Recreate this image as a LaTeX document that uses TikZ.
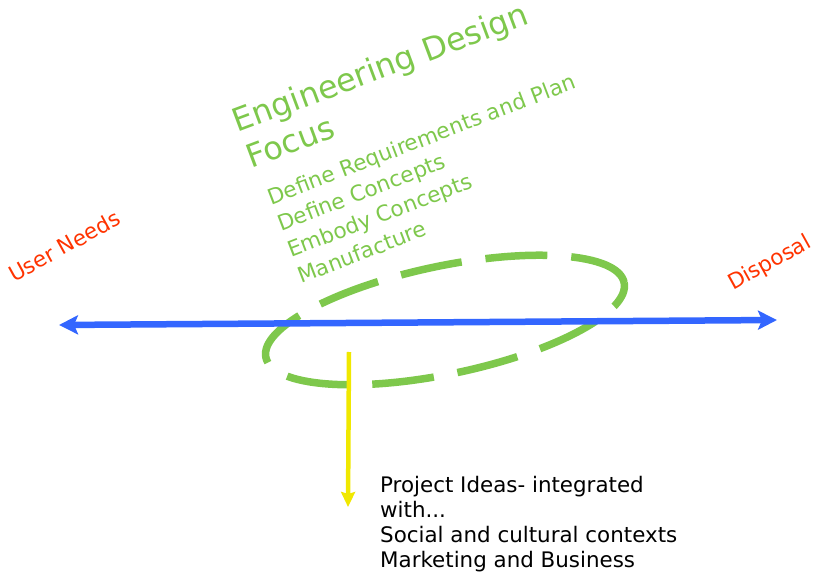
\documentclass[tikz,border=0pt]{standalone}
\usepackage{fontspec}
\setmainfont{DejaVu Sans}
\usetikzlibrary{arrows.meta}

\definecolor{focusgreen}{RGB}{126,200,76}
\definecolor{axisblue}{RGB}{51,102,255}
\definecolor{endred}{RGB}{255,51,0}
\definecolor{ideayellow}{RGB}{240,232,0}

\begin{document}
\begin{tikzpicture}
  [x=1pt,y=1pt,
   end label/.style={text=endred,font=\fontsize{21.5}{26}\selectfont,rotate=29,inner sep=0pt,anchor=base west},
   focus title/.style={text=focusgreen,font=\fontsize{32}{38}\selectfont,rotate=20.5,inner sep=0pt,anchor=north west,align=left},
   focus steps/.style={text=focusgreen,font=\fontsize{21.6}{28}\selectfont,rotate=21,inner sep=0pt,anchor=north west,align=left},
   idea text/.style={text=black,font=\fontsize{21.4}{25}\selectfont,inner sep=0pt,anchor=north west,align=left}]
  \useasboundingbox (0,0) rectangle (815,-577);

  % ends of the life-cycle axis
  \coordinate (needs) at (59,-325);
  \coordinate (disposal) at (777,-320);
  \node[end label] (needslabel) at (14,-283) {User Needs};
  \node[end label] (disposallabel) at (733,-291) {Disposal};

  % design focus
  \node[focus title] (title) at (229,-110) {Engineering Design\\Focus};
  \node[focus steps] (steps) at (265,-190) {Define Requirements and Plan\\Define Concepts\\Embody Concepts\\Manufacture};
  \draw[focusgreen, line width=7.5pt, dash pattern=on 62pt off 24pt, rotate around={11.8:(445,-320)}]
    (445,-320) ellipse [x radius=183, y radius=54];

  % project ideas
  \coordinate (focusbottom) at (349,-352);
  \coordinate (ideas) at (348,-507);
  \node[idea text] (ideatext) at (380,-476) {Project Ideas- integrated\\with...\\Social and cultural contexts\\Marketing and Business};

  \path[] (needs) [{Stealth[length=19pt,width=19pt,inset=4pt]}-{Stealth[length=19pt,width=19pt,inset=4pt]}, axisblue, line width=6.5pt] edge (disposal);
  \path[] (focusbottom) [-{Stealth[length=15pt,width=14pt,inset=2pt]}, ideayellow, line width=4.5pt] edge (ideas);
\end{tikzpicture}
\end{document}
